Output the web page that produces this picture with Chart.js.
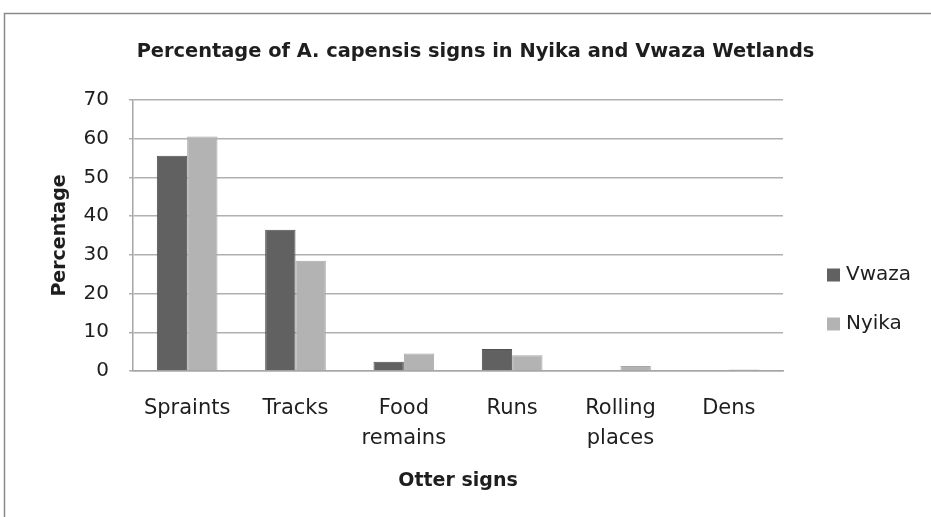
<!DOCTYPE html>
<html>
<head>
<meta charset="utf-8">
<script src="https://cdn.jsdelivr.net/npm/chart.js@4/dist/chart.umd.min.js"></script>
<style>
  html, body { margin: 0; padding: 0; background: #fff; }
  #wrap { width: 931px; height: 517px; position: relative; }
</style>
</head>
<body>
<div id="wrap"><canvas id="c" width="931" height="517"></canvas></div>
<script>
const categories = ["Spraints", "Tracks", ["Food", "remains"], "Runs", ["Rolling", "places"], "Dens"];
const vwazaValues = [55.6, 36.5, 2.4, 5.7, 0, 0];
const nyikaValues = [60.6, 28.5, 4.5, 4.1, 1.3, 0.4];
const seriesNames = ["Vwaza", "Nyika"];
const seriesColors = ["#616161", "#b3b3b3"];
const titleText = "Percentage of A. capensis signs in Nyika and Vwaza Wetlands";
const yTitle = "Percentage";
const xTitle = "Otter signs";

const FONT = "'DejaVu Sans', 'Open Sans', sans-serif";
const TEXT = "#1e1e1e";

const framePlugin = {
  id: 'frame',
  beforeDraw(chart) {
    const ctx = chart.ctx;
    ctx.save();
    ctx.fillStyle = '#fff';
    ctx.fillRect(0, 0, chart.width, chart.height);
    ctx.strokeStyle = '#8a8a8a';
    ctx.lineWidth = 1.5;
    ctx.beginPath();
    ctx.moveTo(4.5, chart.height);
    ctx.lineTo(4.5, 13.5);
    ctx.lineTo(chart.width, 13.5);
    ctx.stroke();
    ctx.restore();
  }
};

const titlePlugin = {
  id: 'topTitle',
  afterDraw(chart) {
    const ctx = chart.ctx;
    ctx.save();
    ctx.font = "bold 19.4px " + FONT;
    ctx.fillStyle = TEXT;
    ctx.textAlign = 'center';
    ctx.textBaseline = 'middle';
    ctx.fillText(titleText, 475.5, 52);
    ctx.restore();
  }
};

const legendPlugin = {
  id: 'sideLegend',
  afterDraw(chart) {
    const ctx = chart.ctx;
    ctx.save();
    ctx.font = "20px " + FONT;
    ctx.textBaseline = 'middle';
    chart.data.datasets.forEach((ds, i) => {
      const y = 275 + i * 49;
      ctx.fillStyle = ds.backgroundColor;
      ctx.fillRect(827, y - 6.5, 13, 13);
      ctx.fillStyle = TEXT;
      ctx.fillText(ds.label, 846, y);
    });
    ctx.restore();
  }
};

new Chart(document.getElementById('c'), {
  type: 'bar',
  data: {
    labels: categories,
    datasets: [
      { label: seriesNames[0], data: vwazaValues, backgroundColor: seriesColors[0], borderColor: '#505050', borderWidth: 1 },
      { label: seriesNames[1], data: nyikaValues, backgroundColor: seriesColors[1], borderColor: '#a8a8a8', borderWidth: 1 }
    ]
  },
  options: {
    responsive: false,
    animation: false,
    layout: { padding: { left: 40, right: 148, top: 100, bottom: 0 } },
    datasets: { bar: { barPercentage: 1.0, categoryPercentage: 0.56 } },
    plugins: {
      legend: { display: false },
      tooltip: { enabled: false },
      title: { display: false }
    },
    scales: {
      x: {
        afterFit(s) { s.height = 146; },
        grid: { display: false, drawTicks: false },
        border: { color: '#a6a6a6', width: 1.5 },
        ticks: { color: TEXT, font: { family: FONT, size: 21, lineHeight: 1.45 }, padding: 22, maxRotation: 0, autoSkip: false },
        title: { display: true, text: xTitle, color: TEXT, font: { family: FONT, size: 19, weight: 'bold' }, padding: { top: 0, bottom: 25 } }
      },
      y: {
        afterFit(s) { s.width = 93; },
        min: 0, max: 70,
        ticks: { stepSize: 10, color: TEXT, font: { family: FONT, size: 20 }, padding: 20 },
        grid: { color: '#b0b0b0', lineWidth: 1.5, drawTicks: true, tickLength: 4 },
        border: { color: '#a6a6a6', width: 1.5 },
        title: { display: true, text: yTitle, color: TEXT, font: { family: FONT, size: 19, weight: 'bold' }, padding: { top: 9, bottom: 4 } }
      }
    }
  },
  plugins: [framePlugin, titlePlugin, legendPlugin]
});
</script>
</body>
</html>
